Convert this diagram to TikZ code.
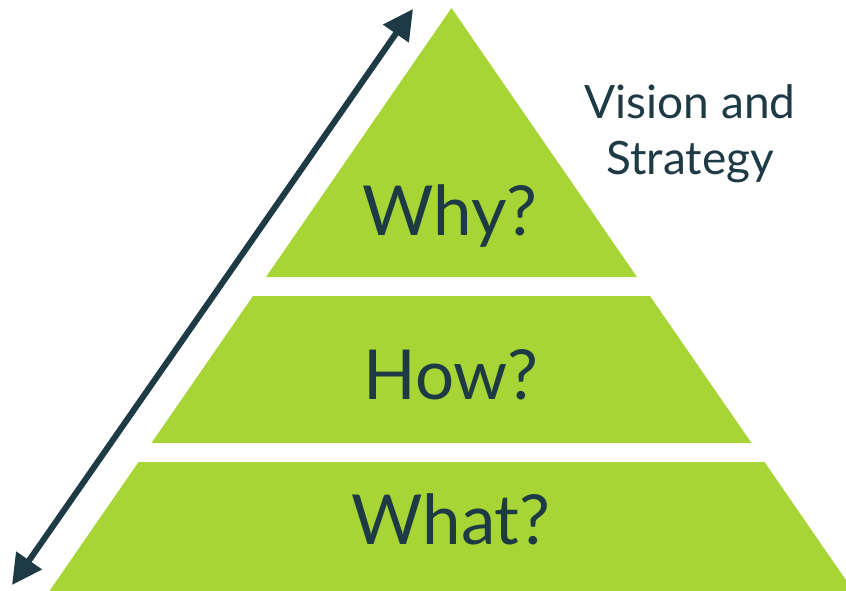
\documentclass[tikz,border=0pt]{standalone}
\usepackage{fontspec}
\setmainfont{Lato}
\usetikzlibrary{arrows.meta}
\definecolor{pgreen}{HTML}{A8D536}
\definecolor{pdark}{HTML}{1E3A44}
\tikzset{
  layer/.style={fill=pgreen, draw=none},
  big/.style={text=pdark, font=\fontsize{69}{80}\selectfont, inner sep=0pt, anchor=base},
  side/.style={text=pdark, font=\fontsize{46}{56}\selectfont, align=center, inner sep=0pt},
  dbl/.style={pdark, line width=6pt, {Triangle[length=30pt,width=30pt]}-{Triangle[length=30pt,width=30pt]}}
}
\begin{document}
\begin{tikzpicture}[x=1pt,y=-1pt]
\useasboundingbox (0,0) rectangle (846,591);
\clip (0,0) rectangle (846,591);
\fill[layer] (451.5,8) -- (637,277) -- (266,277) -- cycle;
\fill[layer] (253,296) -- (650,296) -- (751.5,443) -- (151.5,443) -- cycle;
\fill[layer] (138.5,462) -- (764.5,462) -- (853.5,591) -- (49.5,591) -- cycle;
\node[big] (why) at (450,235) {Why?};
\node[big] (how) at (451,399) {How?};
\node[big] (what) at (451,544) {What?};
\node[side] (vis) at (690,134) {Vision and\\Strategy};
\coordinate (alow) at (12,585);
\coordinate (ahigh) at (413,9);
\draw[dbl] (alow) -- (ahigh);
\end{tikzpicture}
\end{document}
